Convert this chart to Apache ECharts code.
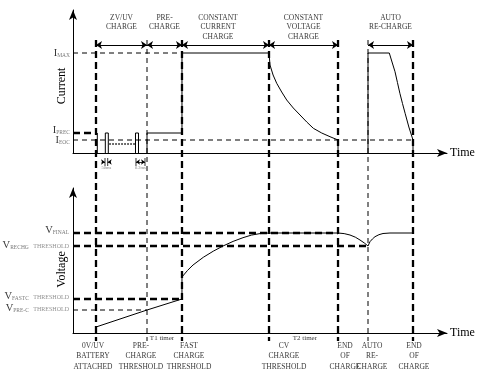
<!DOCTYPE html>
<html><head><meta charset="utf-8">
<script src="https://cdn.jsdelivr.net/npm/echarts@6/dist/echarts.min.js"></script>
<style>html,body{margin:0;padding:0;background:#fff}#c{width:492px;height:384px}</style>
</head><body><div id="c"></div>
<script>
const FONT = 'Liberation Serif';

// ---- time events (time axis runs 0..100) ----
const eventTimes = [6.15, 19.79, 29.14, 52.41, 70.86, 78.88, 90.91];
const eventHeavy = [true, false, true, true, true, false, true];
const eventLabels = ['0V/UV\nBATTERY\nATTACHED', 'PRE-\nCHARGE\nTHRESHOLD', 'FAST\nCHARGE\nTHRESHOLD',
  'CV\nCHARGE\nTHRESHOLD', 'END\nOF\nCHARGE', 'AUTO\nRE-\nCHARGE', 'END\nOF\nCHARGE'];
const eventLabelTimes = [5.35, 18.18, 31.02, 56.42, 72.73, 79.95, 91.18];

// ---- phases ----
const phaseNames = ['ZV/UV\nCHARGE', 'PRE-\nCHARGE', 'CONSTANT\nCURRENT\nCHARGE', 'CONSTANT\nVOLTAGE\nCHARGE', 'AUTO\nRE-CHARGE'];
const phaseSpans = [[0, 1], [1, 2], [2, 3], [3, 4], [5, 6]];
const phaseLabelTimes = [12.97, 24.47, 38.77, 61.63, 84.89];
const timerNames = ['T1 timer', 'T2 timer'];
const timerTimes = [23.8, 62.0];

// ---- current reference levels ----
const currentLevelNames = ['MAX', 'PREC', 'EOC'];
const currentLevelValues = [100, 20, 13];
const currentLevelEnd = [2, 0, 6];      // index of event where the dashed level ends
const currentLevelHeavy = [false, true, false];

// ---- voltage reference levels ----
const voltageLevelNames = ['FINAL', 'RECHG', 'FASTC', 'PRE-C'];
const voltageLevelThreshold = [false, true, true, true];
const voltageLevelValues = [100, 87, 34, 23];
const voltageLevelEnd = [4, 5, 2, 1];
const voltageLevelHeavy = [true, true, true, false];

// ---- current trace ----
const currentDetect = [[6.5, 0], [6.5, 20]];
const currentPulse1 = [[8.64, 0], [8.64, 20], [9.44, 20], [9.44, 0]];
const currentPulse2 = [[16.71, 0], [16.71, 20], [17.51, 20], [17.51, 0]];
const currentRetryDots = [[9.7, 9], [16.6, 9]];
const currentPreCC = [[19.79, 0], [19.79, 20], [29.14, 20], [29.14, 100], [52.41, 100]];
const currentCV = [[52.41, 100], [52.67, 88], [53.5, 78], [54.47, 69.7], [55.8, 61], [57.14, 53], [58.9, 45], [60.70, 38], [62.5, 31], [64.26, 24.7], [66.5, 20], [68.72, 16.3], [70.86, 13]];
const currentEnd1 = [[70.86, 13], [70.86, 0]];
const currentAuto = [[78.88, 0], [78.88, 100], [84.57, 100]];
const currentAutoDecay = [[84.57, 100], [85.3, 91], [86.1, 81.3], [86.75, 70.5], [87.4, 59.7], [88.1, 49.5], [88.8, 39.7], [89.8, 26], [90.91, 13]];
const currentEnd2 = [[90.91, 13], [90.91, 0]];

// ---- voltage trace ----
const voltagePre = [[6.15, 6], [19.79, 23], [29.14, 34], [29.14, 56]];
const voltageCC = [[29.14, 56], [30.6, 62.5], [32.09, 68], [34.84, 75.7], [37.5, 81.8], [40.11, 87], [42.8, 91.6], [45.45, 95.3], [47.7, 97.9], [50.0, 99.4], [52.41, 100]];
const voltageCV = [[52.41, 100], [70.86, 100]];
const voltageDroop = [[70.86, 100], [72.5, 99.4], [74.06, 98], [75.5, 95.8], [76.74, 93], [77.9, 90], [78.88, 87]];
const voltageRecharge = [[78.88, 87], [79.41, 91.3], [80.05, 94], [80.75, 96.3], [81.8, 98.3], [82.89, 99.5], [84.76, 100], [90.91, 100]];

// pulse timing annotation
const pulseMarks = [8.56, 9.28, 16.84, 19.25];
const pulseTexts = ['50ms', '0.2ms'];
const pulseTextTimes = [8.9, 18.0];

const ARROW_I = 108;       // current value of the phase arrow bar
const EVENT_TOP_V = 293;   // vertical event line extents, voltage units
const EVENT_BOT_V = -8;

const HEAVY = { type: [7, 4], width: 2.3 };
const THIN = { type: [5, 4], width: 1 };

function line(data, g, style) {
  return {
    type: 'line', xAxisIndex: g, yAxisIndex: g, data, symbol: 'none', showSymbol: false,
    silent: true, clip: false, animation: false, smooth: false,
    lineStyle: Object.assign({ color: '#000', width: 1 }, style || {})
  };
}
function texts(g, items, label) {
  return {
    type: 'scatter', xAxisIndex: g, yAxisIndex: g, symbolSize: 0, silent: true, clip: false, animation: false,
    data: items,
    label: Object.assign({ show: true, color: '#000', fontFamily: FONT, formatter: '{b}' }, label)
  };
}

const series = [];
// event verticals
eventTimes.forEach((t, i) => series.push(line([[t, EVENT_TOP_V], [t, EVENT_BOT_V]], 1, eventHeavy[i] ? HEAVY : THIN)));
// current levels
currentLevelValues.forEach((v, i) => series.push(line([[0, v], [eventTimes[currentLevelEnd[i]], v]], 0, currentLevelHeavy[i] ? HEAVY : THIN)));
// voltage levels
voltageLevelValues.forEach((v, i) => series.push(line([[0, v], [eventTimes[voltageLevelEnd[i]], v]], 1, voltageLevelHeavy[i] ? HEAVY : THIN)));
// current trace
[currentDetect, currentPulse1, currentPulse2, currentPreCC, currentCV, currentEnd1, currentAuto, currentAutoDecay, currentEnd2]
  .forEach(d => series.push(line(d, 0)));
series.push(line(currentRetryDots, 0, { type: 'dotted', width: 1.5 }));
// voltage trace
[voltagePre, voltageCC, voltageCV, voltageDroop, voltageRecharge].forEach(d => series.push(line(d, 1)));
// pulse ticks
pulseMarks.forEach(t => series.push(line([[t, -5], [t, -13]], 0, { width: 0.8 })));

// phase arrow bar
series.push({
  type: 'lines', coordinateSystem: 'cartesian2d', xAxisIndex: 0, yAxisIndex: 0, silent: true, clip: false, animation: false,
  symbol: ['arrow', 'arrow'], symbolSize: 6,
  lineStyle: { color: '#000', width: 1, opacity: 1, curveness: 0 },
  data: phaseSpans.map(([a, b]) => ({ coords: [[eventTimes[a], ARROW_I], [eventTimes[b], ARROW_I]] }))
});
// pulse width arrows
series.push({
  type: 'lines', coordinateSystem: 'cartesian2d', xAxisIndex: 0, yAxisIndex: 0, silent: true, clip: false, animation: false,
  symbol: ['none', 'arrow'], symbolSize: 4,
  lineStyle: { color: '#000', width: 0.8, opacity: 1 },
  data: [
    { coords: [[7.67, -9], [pulseMarks[0], -9]] },
    { coords: [[10.16, -9], [pulseMarks[1], -9]] },
    { coords: [[pulseMarks[2], -9], [pulseMarks[3], -9]], symbol: ['arrow', 'arrow'] }
  ]
});

// phase names
series.push(texts(0, phaseNames.map((n, i) => ({ name: n, value: [phaseLabelTimes[i], 140] })),
  { position: [0, 0], align: 'center', verticalAlign: 'top', fontSize: 7.5, lineHeight: 9.5 }));
// event labels
series.push(texts(1, eventLabels.map((n, i) => ({ name: n, value: [eventLabelTimes[i], -7.5] })),
  { position: [0, 0], align: 'center', verticalAlign: 'top', fontSize: 7.5, lineHeight: 10.5 }));
// timer labels
series.push(texts(1, timerNames.map((n, i) => ({ name: n, value: [timerTimes[i], -5] })),
  { position: [0, 0], align: 'center', verticalAlign: 'middle', fontSize: 7 }));
// pulse texts
series.push(texts(0, pulseTexts.map((n, i) => ({ name: n, value: [pulseTextTimes[i], -15] })),
  { position: [0, 0], align: 'center', verticalAlign: 'middle', fontSize: 4.5, color: '#666' }));

const rich = {
  m: { fontFamily: FONT, fontSize: 10.5, color: '#000' },
  s: { fontFamily: FONT, fontSize: 5.5, color: '#555', padding: [5, 0, 0, 0] },
  t: { fontFamily: FONT, fontSize: 6, color: '#777', padding: [3, 0, 0, 0] }
};
const currentLabelOffsets = [0, -3, 0];
currentLevelValues.forEach((v, i) => series.push(texts(0, [{ name: currentLevelNames[i], value: [0, v] }], {
  position: 'left', distance: 3, offset: [0, currentLabelOffsets[i]],
  formatter: p => '{m|I}{s|' + p.name + '}', rich
})));
const voltageLabelOffsets = [-3, -1, -3, -2];
voltageLevelValues.forEach((v, i) => series.push(texts(1, [{ name: voltageLevelNames[i], value: [0, v] }], {
  position: 'left', distance: 4, offset: [0, voltageLabelOffsets[i]],
  formatter: p => '{m|V}{s|' + p.name + '}' + (voltageLevelThreshold[i] ? '{t|   THRESHOLD}' : ''), rich
})));

function xAxis(g) {
  return {
    type: 'value', gridIndex: g, min: 0, max: 100, name: 'Time', nameLocation: 'end', nameGap: 3,
    nameTextStyle: { fontFamily: FONT, fontSize: 12, color: '#000', align: 'left', verticalAlign: 'middle' },
    axisLine: { show: true, onZero: false, symbol: ['none', 'arrow'], symbolSize: [6, 10], lineStyle: { color: '#000', width: 1 } },
    axisTick: { show: false }, axisLabel: { show: false }, splitLine: { show: false }
  };
}
function yAxis(g, name, max, shift) {
  return {
    type: 'value', gridIndex: g, min: 0, max, name, nameLocation: 'middle', nameGap: 5, nameRotate: 90,
    nameTextStyle: { fontFamily: FONT, fontSize: 12, color: '#000', padding: [0, shift, 0, 0] },
    axisLine: { show: true, symbol: ['none', 'arrow'], symbolSize: [6, 10], lineStyle: { color: '#000', width: 1 } },
    axisTick: { show: false }, axisLabel: { show: false }, splitLine: { show: false }
  };
}

const chart = echarts.init(document.getElementById('c'));
chart.setOption({
  backgroundColor: '#fff',
  animation: false,
  grid: [
    { left: 73, top: 10, width: 374, height: 143, containLabel: false },
    { left: 73, top: 188, width: 374, height: 145, containLabel: false }
  ],
  xAxis: [xAxis(0), xAxis(1)],
  yAxis: [yAxis(0, 'Current', 143, 9), yAxis(1, 'Voltage', 145, 18)],
  series
});
</script></body></html>
